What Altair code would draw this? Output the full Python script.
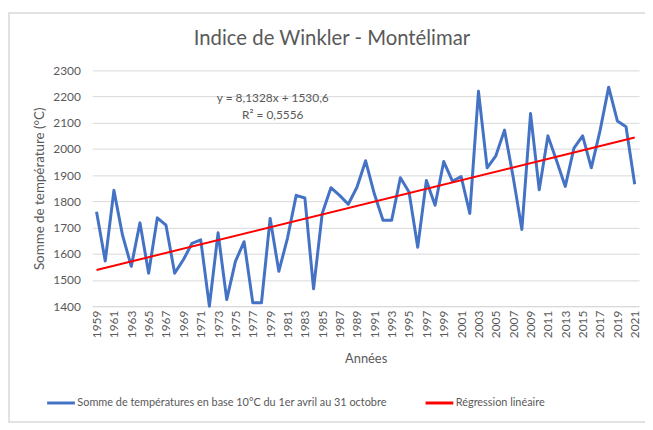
import altair as alt
import pandas as pd

years = list(range(1959, 2022))
values = [1760, 1572, 1842, 1670, 1552, 1718, 1526, 1737, 1709, 1526,
          1577, 1640, 1653, 1400, 1680, 1425, 1571, 1646, 1413, 1413,
          1735, 1533, 1660, 1823, 1813, 1466, 1754, 1852, 1823, 1789,
          1854, 1955, 1829, 1728, 1728, 1890, 1836, 1625, 1880, 1785,
          1952, 1877, 1895, 1754, 2220, 1928, 1974, 2072, 1892, 1693,
          2135, 1844, 2050, 1955, 1857, 2003, 2050, 1928, 2069, 2236,
          2107, 2085, 1865]

series_names = ["Somme de températures en base 10°C du 1er avril au 31 octobre",
                "Régression linéaire"]
series_colors = ["#4472C4", "#FF0000"]
tick_years = list(range(1959, 2022, 2))
y_ticks = list(range(1400, 2301, 100))

ann_text = ["y = 8,1328x + 1530,6", "R² = 0,5556"]
ann_year = [1979.3, 1979.3]
ann_value = [2195, 2129]

df = pd.DataFrame({"year": years, "value": values})
ann = pd.DataFrame({"text": ann_text, "year": ann_year, "value": ann_value})

FONT = "Lato"
GRAY = "#595959"

xs = alt.Scale(domain=[1958.5, 2021.5], nice=False, zero=False)
ys = alt.Scale(domain=[1400, 2300], nice=False, zero=False)
color_scale = alt.Scale(domain=series_names, range=series_colors)

x_axis = alt.Axis(values=tick_years, format="d", labelAngle=-90,
                  title="Années", grid=False, ticks=False,
                  domain=True, domainColor="#D9D9D9",
                  labelColor=GRAY, labelFontSize=12, labelFont=FONT,
                  titleColor=GRAY, titleFontSize=13, titleFont=FONT,
                  titleFontWeight="normal", labelPadding=4,
                  titlePadding=15, labelFlush=False,
                  labelOverlap=False, labelBound=False)
y_axis = alt.Axis(values=y_ticks, format="d",
                  title="Somme de température (°C)",
                  grid=True, gridColor="#D9D9D9", ticks=False,
                  domain=False, labelColor=GRAY, labelFontSize=12,
                  labelFont=FONT, titleColor=GRAY, titleFontSize=13.5,
                  titleFont=FONT, titleFontWeight="normal",
                  labelPadding=12, titlePadding=6)

# chart-area frame (decorative border, as in the spreadsheet export)
frame = alt.Chart(pd.DataFrame({"f": [0]})).mark_rect(
    filled=False, stroke="#D9D9D9", strokeWidth=1.5
).encode(x=alt.value(-84), x2=alt.value(570), y=alt.value(-58), y2=alt.value(355))

base = alt.Chart(df)

line = base.mark_line(strokeWidth=3, strokeJoin="round").encode(
    x=alt.X("year:Q", scale=xs, axis=x_axis),
    y=alt.Y("value:Q", scale=ys, axis=y_axis),
    color=alt.Color("s:N", scale=color_scale,
                    legend=alt.Legend(title=None, orient="none", direction="horizontal",
                                      legendX=-47, legendY=320,
                                      symbolType="stroke", symbolSize=784,
                                      symbolStrokeWidth=3, labelFontSize=11,
                                      labelFont=FONT, labelColor=GRAY,
                                      labelOffset=1, columnPadding=32,
                                      labelLimit=500))
).transform_calculate(s="'" + series_names[0] + "'")

reg = base.transform_regression("year", "value").transform_calculate(
    s="'" + series_names[1] + "'"
).mark_line(strokeWidth=2).encode(
    x=alt.X("year:Q", scale=xs, axis=x_axis),
    y=alt.Y("value:Q", scale=ys, axis=y_axis),
    color=alt.Color("s:N", scale=color_scale)
)

text = alt.Chart(ann).mark_text(font=FONT, fontSize=12, color=GRAY).encode(
    x=alt.X("year:Q", scale=xs, axis=x_axis),
    y=alt.Y("value:Q", scale=ys, axis=y_axis),
    text="text:N"
)

chart = alt.layer(frame, line, reg, text).properties(
    width=552, height=238,
    padding={"left": 85, "top": 61, "right": 6, "bottom": 118},
    autosize=alt.AutoSizeParams(type="none"),
    title=alt.TitleParams("Indice de Winkler - Montélimar", fontSize=20.5,
                          font=FONT, color=GRAY, fontWeight="normal",
                          dx=-34, offset=-38),
).configure_view(stroke=None).configure_axisX(labelOverlap=False)

chart.save("out.html", embed_options={"renderer": "svg", "actions": False})
